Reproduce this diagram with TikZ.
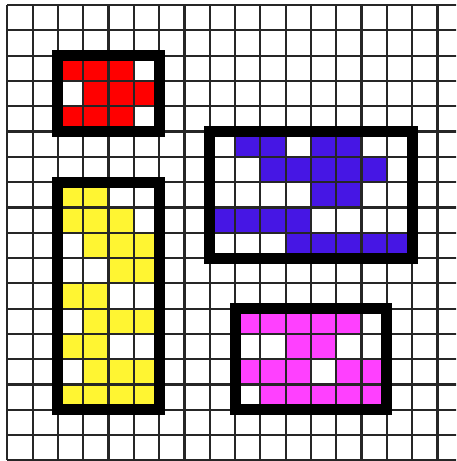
\documentclass[tikz,border=0pt]{standalone}
\usepackage{tikz}

\definecolor{redfill}{RGB}{255,0,0}
\definecolor{yellowfill}{RGB}{255,245,50}
\definecolor{bluefill}{RGB}{70,22,228}
\definecolor{magentafill}{RGB}{255,64,255}

\begin{document}
\begin{tikzpicture}[
        x=25.3pt, y=-25.3pt,
        gridline/.style={draw=black!85, line width=2.2pt},
        frame/.style={draw=black, line width=11pt},
        cell/.style={fill=#1}
    ]
        \useasboundingbox (-0.2885,-0.1976) rectangle (17.735,18.02);
        \clip (-0.2885,-0.1976) rectangle (17.735,18.02);

        % coloured cells
        \foreach \r/\cols in {2/{2,3,4}, 3/{3,4,5}, 4/{2,3,4}}
            \foreach \c in \cols
                \fill[cell=redfill] (\c,\r) rectangle ++(1,1);
        \foreach \r/\cols in {7/{2,3}, 8/{2,3,4}, 9/{3,4,5}, 10/{4,5}, 11/{2,3},
                              12/{3,4,5}, 13/{2,3}, 14/{3,4,5}, 15/{2,3,4,5}}
            \foreach \c in \cols
                \fill[cell=yellowfill] (\c,\r) rectangle ++(1,1);
        \foreach \r/\cols in {5/{9,10,12,13}, 6/{10,11,12,13,14}, 7/{12,13},
                              8/{8,9,10,11}, 9/{11,12,13,14,15}}
            \foreach \c in \cols
                \fill[cell=bluefill] (\c,\r) rectangle ++(1,1);
        \foreach \r/\cols in {12/{9,10,11,12,13}, 13/{11,12}, 14/{9,10,11,13,14},
                              15/{10,11,12,13,14}}
            \foreach \c in \cols
                \fill[cell=magentafill] (\c,\r) rectangle ++(1,1);

        % grid
        \foreach \i in {0,...,18} {
            \draw[gridline] (\i,0) -- (\i,18);
            \draw[gridline] (0,\i) -- (18,\i);
        }

        % frames
        \draw[frame] (2,2) rectangle (6,5);
        \draw[frame] (2,7) rectangle (6,16);
        \draw[frame] (8,5) rectangle (16,10);
        \draw[frame] (9,12) rectangle (15,16);
    \end{tikzpicture}
\end{document}
